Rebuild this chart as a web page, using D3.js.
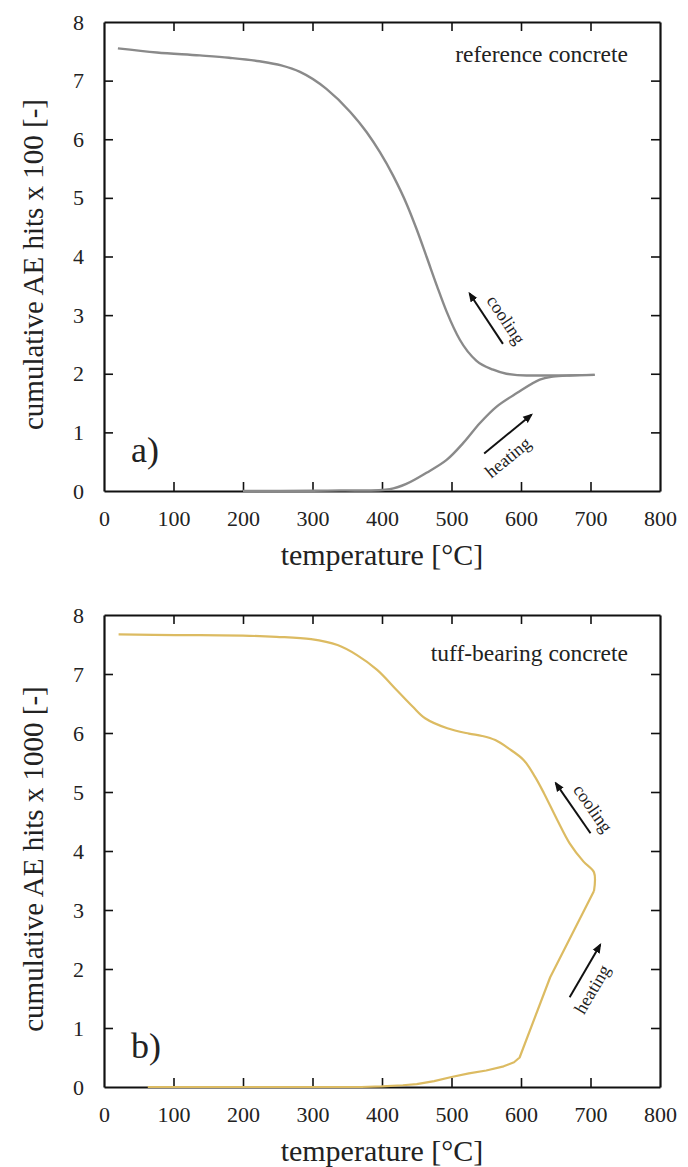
<!DOCTYPE html>
<html lang="en">
<head>
  <meta charset="UTF-8">
  <title>Cumulative AE hits vs temperature</title>
  <script src="https://d3js.org/d3.v7.min.js"></script>
  <style>
    body { margin: 0; background: #fff; }
    svg { font-family: "Liberation Serif", "DejaVu Serif", serif; }
    .tick text { font-family: "Liberation Serif", serif; font-size: 22px; fill: #222; }
    .tick line { stroke: #111; stroke-width: 1.6; }
    .domain { stroke: #111; stroke-width: 2.2; }
    .axis-title { font-size: 30px; fill: #222; text-anchor: middle; }
    .y-title { font-size: 29px; }
    .note { font-size: 23.5px; fill: #222; }
    .panel-label { font-size: 36px; fill: #222; }
    .arrow-text { font-size: 18px; fill: #222; text-anchor: middle; }
  </style>
</head>
<body>
  <div id="chart"></div>

  <script>
    // panel a) reference concrete (x 100 hits)
    const refHeatT = [200, 300, 340, 411, 435, 464, 493, 517, 541, 565, 594, 627, 646, 670, 706];
    const refHeatV = [0, 0.005, 0.01, 0.03, 0.12, 0.31, 0.53, 0.82, 1.16, 1.44, 1.67, 1.90, 1.95, 1.97, 1.98];
    const refCoolT = [706, 646, 608, 579, 560, 536, 512, 493, 479, 464, 450, 436, 416, 397, 378, 354, 320, 282, 255, 224, 180, 138, 76, 20];
    const refCoolV = [1.98, 1.97, 1.97, 2.0, 2.07, 2.22, 2.58, 3.06, 3.50, 4.00, 4.46, 4.88, 5.38, 5.78, 6.12, 6.47, 6.86, 7.15, 7.26, 7.33, 7.39, 7.43, 7.48, 7.55];

    // panel b) tuff-bearing concrete (x 1000 hits)
    const tuffHeatT = [63, 200, 300, 370, 400, 430, 450, 475, 500, 525, 550, 575, 590, 598, 642, 705];
    const tuffHeatV = [0, 0, 0, 0, 0.01, 0.03, 0.05, 0.1, 0.17, 0.23, 0.28, 0.35, 0.42, 0.5, 1.86, 3.32];
    const tuffCoolT = [705, 705, 690, 670, 652, 633, 620, 604, 582, 563, 544, 525, 494, 462, 444, 421, 393, 364, 336, 298, 248, 200, 103, 21];
    const tuffCoolV = [3.32, 3.64, 3.82, 4.13, 4.53, 4.98, 5.26, 5.54, 5.74, 5.88, 5.95, 5.99, 6.08, 6.25, 6.45, 6.73, 7.07, 7.32, 7.49, 7.59, 7.63, 7.65, 7.66, 7.67];

    const xTicks = [0, 100, 200, 300, 400, 500, 600, 700, 800];
    const yTicks = [0, 1, 2, 3, 4, 5, 6, 7, 8];

    const panels = [
      {
        top: 22, bottom: 491, color: "#8a8a8a", width: 2.4,
        heatCurve: d3.curveCatmullRom.alpha(0.5), coolCurve: d3.curveMonotoneX,
        heatT: refHeatT, heatV: refHeatV, coolT: refCoolT, coolV: refCoolV,
        yTitle: "cumulative AE hits x 100 [-]", note: "reference concrete", noteY: 62,
        label: "a)",
        cool: { from: [574, 2.51], to: [526, 3.37], text: [20, 1] },
        heat: { from: [547, 0.64], to: [615, 1.30], text: [0, 23] }
      },
      {
        top: 615, bottom: 1087, color: "#dcbb62", width: 2.2,
        heatCurve: d3.curveLinear, coolCurve: d3.curveCatmullRom.alpha(0.5),
        heatT: tuffHeatT, heatV: tuffHeatV, coolT: tuffCoolT, coolV: tuffCoolV,
        yTitle: "cumulative AE hits x 1000 [-]", note: "tuff-bearing concrete", noteY: 661,
        label: "b)",
        cool: { from: [700, 4.30], to: [650, 5.15], text: [20, 0] },
        heat: { from: [670, 1.52], to: [714, 2.41], text: [7, 18] }
      }
    ];

    const svg = d3.select("#chart")
      .append("svg")
      .attr("width", 688)
      .attr("height", 1167);

    svg.append("defs").append("marker")
      .attr("id", "head")
      .attr("viewBox", "0 0 10 10")
      .attr("refX", 8).attr("refY", 5)
      .attr("markerWidth", 5).attr("markerHeight", 5)
      .attr("orient", "auto")
      .append("path")
      .attr("d", "M0,1 L10,5 L0,9 Z")
      .attr("fill", "#111");

    const left = 104, right = 660;

    panels.forEach(p => {
      const x = d3.scaleLinear().domain([0, 800]).range([left, right]);
      const y = d3.scaleLinear().domain([0, 8]).range([p.bottom, p.top]);
      const g = svg.append("g");

      // plot frame with inward ticks on all sides
      g.append("g")
        .attr("transform", `translate(0,${p.bottom})`)
        .call(d3.axisBottom(x).tickValues(xTicks).tickSize(-9).tickSizeOuter(0).tickPadding(19));
      g.append("g")
        .attr("transform", `translate(0,${p.top})`)
        .call(d3.axisTop(x).tickValues(xTicks).tickSize(-9).tickSizeOuter(0).tickFormat(""));
      g.append("g")
        .attr("transform", `translate(${left},0)`)
        .call(d3.axisLeft(y).tickValues(yTicks).tickSize(-9).tickSizeOuter(0).tickPadding(20));
      g.append("g")
        .attr("transform", `translate(${right},0)`)
        .call(d3.axisRight(y).tickValues(yTicks).tickSize(-9).tickSizeOuter(0).tickFormat(""));

      // no tick marks on the frame corners
      g.selectAll(".tick line").filter(d => d === 0 || d === 800 || d === 8)
        .attr("stroke-opacity", 0);

      const heatPts = p.heatT.map((t, i) => [t, p.heatV[i]]);
      let coolPts = p.coolT.map((t, i) => [t, p.coolV[i]]);
      if (p.coolCurve === d3.curveMonotoneX) coolPts = coolPts.slice().sort((a, b) => a[0] - b[0]);

      g.append("path")
        .datum(heatPts)
        .attr("d", d3.line().x(d => x(d[0])).y(d => y(d[1])).curve(p.heatCurve))
        .attr("fill", "none")
        .attr("stroke", p.color)
        .attr("stroke-width", p.width)
        .attr("stroke-linejoin", "round");

      g.append("path")
        .datum(coolPts)
        .attr("d", d3.line().x(d => x(d[0])).y(d => y(d[1])).curve(p.coolCurve))
        .attr("fill", "none")
        .attr("stroke", p.color)
        .attr("stroke-width", p.width)
        .attr("stroke-linejoin", "round");

      // arrows with labels
      [["cooling", p.cool], ["heating", p.heat]].forEach(([name, a]) => {
        const x1 = x(a.from[0]), y1 = y(a.from[1]);
        const x2 = x(a.to[0]), y2 = y(a.to[1]);
        g.append("line")
          .attr("x1", x1).attr("y1", y1)
          .attr("x2", x2).attr("y2", y2)
          .attr("stroke", "#111")
          .attr("stroke-width", 2)
          .attr("marker-end", "url(#head)");
        let ang = Math.atan2(y2 - y1, x2 - x1) * 180 / Math.PI;
        if (ang < -90) ang += 180;
        if (ang > 90) ang -= 180;
        const mx = (x1 + x2) / 2 + a.text[0];
        const my = (y1 + y2) / 2 + a.text[1];
        g.append("text")
          .attr("class", "arrow-text")
          .attr("transform", `translate(${mx},${my}) rotate(${ang})`)
          .attr("dy", "0.35em")
          .text(name);
      });

      g.append("text")
        .attr("class", "note")
        .attr("x", 628)
        .attr("y", p.noteY)
        .attr("text-anchor", "end")
        .text(p.note);

      g.append("text")
        .attr("class", "panel-label")
        .attr("x", 131)
        .attr("y", p.bottom - 29)
        .text(p.label);

      g.append("text")
        .attr("class", "axis-title y-title")
        .attr("transform", `translate(43,${(p.top + p.bottom) / 2 + 8}) rotate(-90)`)
        .text(p.yTitle);

      g.append("text")
        .attr("class", "axis-title")
        .attr("x", (left + right) / 2)
        .attr("y", p.bottom + 74)
        .text("temperature [°C]");
    });
  </script>
</body>
</html>
